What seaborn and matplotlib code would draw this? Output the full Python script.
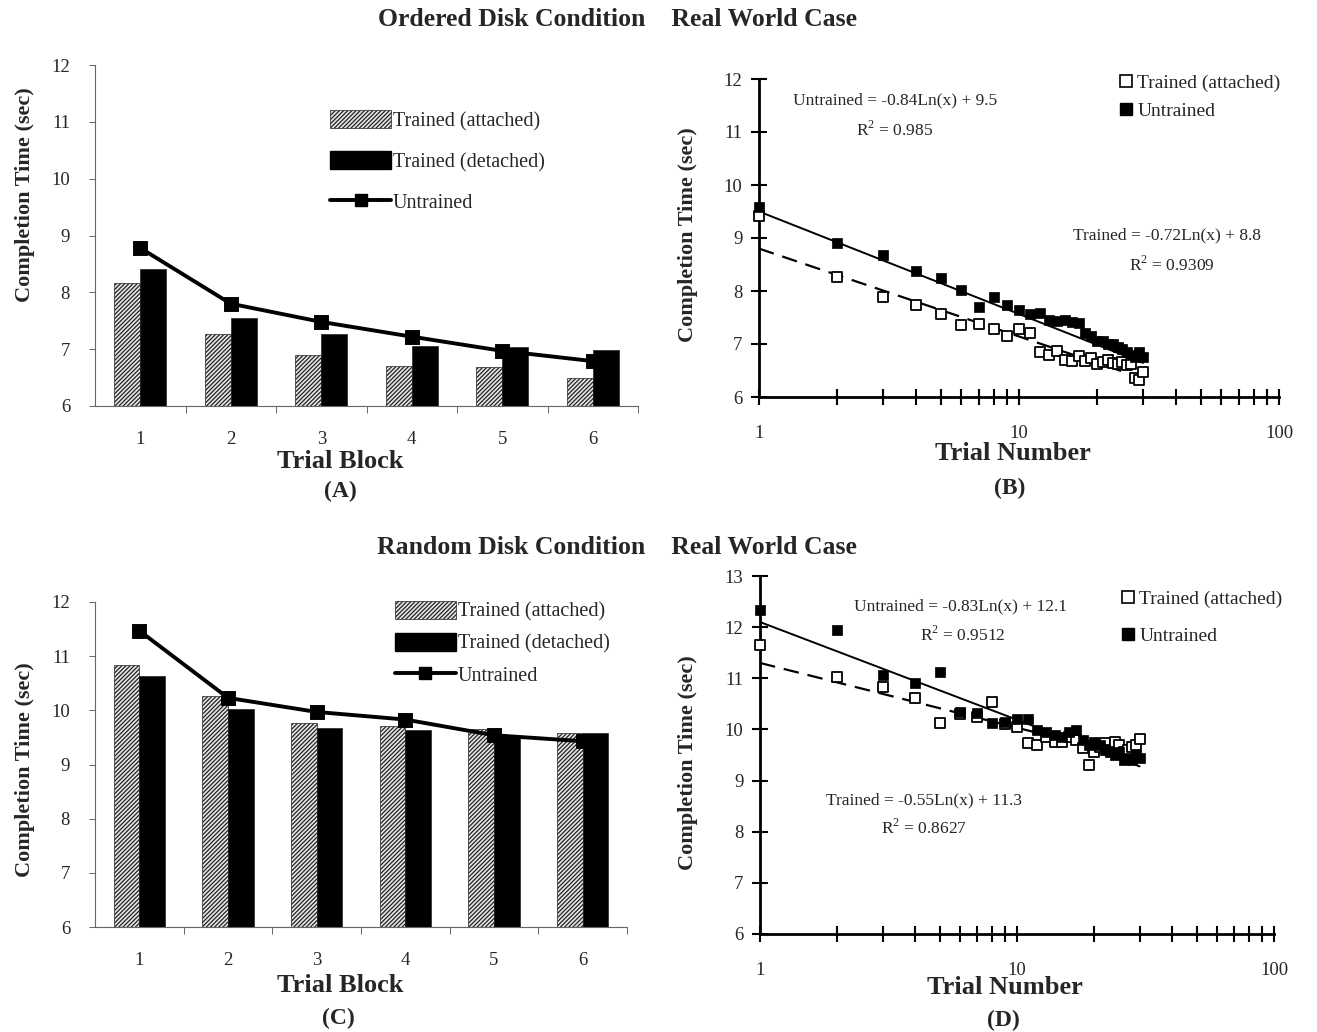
import numpy as np
import pandas as pd
import matplotlib
matplotlib.use('Agg')
import matplotlib.pyplot as plt
import seaborn as sns
from matplotlib.patches import Patch
from matplotlib.lines import Line2D
from matplotlib.ticker import FixedLocator, NullFormatter, FixedFormatter

blocks = [1, 2, 3, 4, 5, 6]
# block means, ordered disk condition (A)
ord_attached = [8.17, 7.27, 6.89, 6.70, 6.69, 6.50]
ord_detached = [8.41, 7.54, 7.27, 7.06, 7.04, 6.98]
ord_untrained = [8.78, 7.80, 7.48, 7.22, 6.97, 6.79]
# block means, random disk condition (C)
rnd_attached = [10.83, 10.26, 9.77, 9.72, 9.65, 9.59]
rnd_detached = [10.64, 10.03, 9.67, 9.63, 9.52, 9.59]
rnd_untrained = [11.47, 10.23, 9.97, 9.83, 9.54, 9.43]

trials = list(range(1, 31))
# per-trial means, ordered disk (B)
ord_trial_trained = [9.42, 8.26, 7.88, 7.74, 7.57, 7.35, 7.37, 7.28, 7.15, 7.28,
                     7.20, 6.85, 6.80, 6.86, 6.70, 6.68, 6.78, 6.68, 6.74, 6.62,
                     6.66, 6.70, 6.65, 6.62, 6.66, 6.60, 6.62, 6.36, 6.32, 6.48]
ord_trial_untrained = [9.58, 8.91, 8.68, 8.38, 8.25, 8.02, 7.69, 7.88, 7.74, 7.64,
                       7.57, 7.58, 7.45, 7.43, 7.45, 7.42, 7.40, 7.20, 7.15, 7.05,
                       7.05, 7.00, 7.00, 6.95, 6.90, 6.85, 6.80, 6.75, 6.85, 6.75]
# per-trial means, random disk (D)
rnd_trial_trained = [11.65, 11.02, 10.83, 10.61, 10.13, 10.30, 10.25, 10.54, 10.10, 10.05,
                     9.73, 9.70, 9.85, 9.76, 9.76, 9.85, 9.80, 9.63, 9.30, 9.56,
                     9.65, 9.73, 9.60, 9.76, 9.70, 9.55, 9.60, 9.65, 9.69, 9.82]
rnd_trial_untrained = [12.33, 11.94, 11.06, 10.91, 11.13, 10.34, 10.33, 10.13, 10.15, 10.20,
                       10.20, 9.99, 9.95, 9.90, 9.85, 9.95, 9.98, 9.80, 9.70, 9.75,
                       9.70, 9.60, 9.55, 9.50, 9.55, 9.40, 9.45, 9.40, 9.50, 9.45]

# log trend lines printed on the chart: (slope, intercept)
ord_fit_untrained = (-0.84, 9.5)
ord_fit_trained = (-0.72, 8.8)
rnd_fit_untrained = (-0.83, 12.1)
rnd_fit_trained = (-0.55, 11.3)

sns.set_theme(style='white')
plt.rcParams['font.family'] = ['Liberation Serif', 'DejaVu Serif']
plt.rcParams['hatch.linewidth'] = 0.9
plt.rcParams['mathtext.fontset'] = 'custom'
plt.rcParams['mathtext.rm'] = 'Liberation Serif'

W, H = 1317, 1032
fig = plt.figure(figsize=(W / 100, H / 100), dpi=100)
HATCH = '////////'


def box(x0, y_top, x1, y_bot):
    # pixel box -> figure fraction
    return [x0 / W, 1 - y_bot / H, (x1 - x0) / W, (y_bot - y_top) / H]


def ftext(x, y, s, **kw):
    fig.text(x / W, 1 - y / H, s, ha='center', va='center', **kw)


def bar_panel(ax, attached, detached, untrained, leg_anchor, leg_space):
    df = pd.DataFrame({'block': blocks * 2,
                       'time': attached + detached,
                       'group': ['Trained (attached)'] * 6 + ['Trained (detached)'] * 6})
    sns.barplot(data=df, x='block', y='time', hue='group', palette=['#e6e6e6', 'black'],
                width=0.58, edgecolor='#222222', linewidth=0.5, saturation=1,
                legend=False, ax=ax)
    for p in ax.patches:
        if p.get_facecolor()[0] > 0.5:
            p.set_hatch(HATCH)
    sns.pointplot(x=blocks, y=untrained, color='black', markers='s', markersize=8,
                  linewidth=2.8, errorbar=None, ax=ax)
    ax.set_ylim(6, 12)
    ax.set_xlim(-0.5, 5.5)
    ax.set_xlabel('')
    ax.set_ylabel('')
    for s in ['top', 'right']:
        ax.spines[s].set_visible(False)
    for s in ['left', 'bottom']:
        ax.spines[s].set_color('#666666')
        ax.spines[s].set_linewidth(0.8)
    ax.set_yticks(range(6, 13))
    ax.tick_params(axis='y', which='major', direction='out', length=4, width=0.7,
                   color='#666666', labelsize=13.5, pad=14, left=True)
    ax.tick_params(axis='x', which='major', length=0, labelsize=13.5, pad=18)
    ax.xaxis.set_minor_locator(FixedLocator([0.5, 1.5, 2.5, 3.5, 4.5, 5.5]))
    ax.tick_params(axis='x', which='minor', direction='out', length=5, width=0.7,
                   color='#666666', bottom=True)
    handles = [Patch(facecolor='#e6e6e6', edgecolor='#222222', hatch=HATCH, linewidth=0.5,
                     label='Trained (attached)'),
               Patch(facecolor='black', edgecolor='black', label='Trained (detached)'),
               Line2D([], [], color='black', lw=2.8, marker='s', ms=8, label='Untrained')]
    ax.legend(handles=handles, loc='upper left', bbox_to_anchor=leg_anchor, frameon=False,
              fontsize=14.5, handlelength=3.0, handleheight=1.0, handletextpad=0.1,
              labelspacing=leg_space)


def scatter_panel(ax, trained, untrained, fit_tr, fit_un, ylo, yhi, leg_anchor, leg_space):
    x = np.array(trials)
    sns.lineplot(x=x, y=fit_tr[0] * np.log(x) + fit_tr[1], color='black', lw=1.6,
                 linestyle=(0, (7, 4)), ax=ax)
    sns.lineplot(x=x, y=fit_un[0] * np.log(x) + fit_un[1], color='black', lw=1.4, ax=ax)
    sns.scatterplot(x=trials, y=trained, marker='s', s=62, facecolor='white',
                    edgecolor='black', linewidth=1.3, ax=ax, zorder=3, clip_on=False)
    sns.scatterplot(x=trials, y=untrained, marker='s', s=62, color='black',
                    edgecolor='black', linewidth=0.5, ax=ax, zorder=4, clip_on=False)
    ax.set_xscale('log')
    ax.set_xlim(1, 100)
    ax.set_ylim(ylo, yhi)
    ax.set_xlabel('')
    ax.set_ylabel('')
    for s in ['top', 'right']:
        ax.spines[s].set_visible(False)
    for s in ['left', 'bottom']:
        ax.spines[s].set_color('black')
        ax.spines[s].set_linewidth(2)
    ax.xaxis.set_major_locator(FixedLocator([1, 10, 100]))
    ax.xaxis.set_major_formatter(FixedFormatter(['1', '10', '100']))
    minors = [m * d for d in (1, 10) for m in range(2, 10)]
    ax.xaxis.set_minor_locator(FixedLocator(minors))
    ax.xaxis.set_minor_formatter(NullFormatter())
    ax.set_yticks(range(ylo, yhi + 1))
    ax.tick_params(axis='both', which='both', direction='inout', length=12, width=1.5,
                   color='black', labelsize=13.5, bottom=True, left=True)
    ax.tick_params(axis='x', which='major', pad=14)
    ax.tick_params(axis='y', which='major', pad=6)
    handles = [Line2D([], [], ls='none', marker='s', ms=8, mfc='white', mec='black',
                      mew=1.2, label='Trained (attached)'),
               Line2D([], [], ls='none', marker='s', ms=8, mfc='black', mec='black',
                      label='Untrained')]
    ax.legend(handles=handles, loc='upper left', bbox_to_anchor=leg_anchor,
              frameon=False, fontsize=14, handlelength=0.6, handletextpad=0.3,
              labelspacing=leg_space)


axA = fig.add_axes(box(95, 65, 638, 406))
bar_panel(axA, ord_attached, ord_detached, ord_untrained, (0.40, 0.92), 1.0)
axB = fig.add_axes(box(759, 79, 1279, 397))
scatter_panel(axB, ord_trial_trained, ord_trial_untrained, ord_fit_trained,
              ord_fit_untrained, 6, 12, (0.66, 1.07), 0.55)
axC = fig.add_axes(box(95, 602, 627, 927))
bar_panel(axC, rnd_attached, rnd_detached, rnd_untrained, (0.53, 1.06), 0.55)
axD = fig.add_axes(box(760, 576, 1274, 934))
scatter_panel(axD, rnd_trial_trained, rnd_trial_untrained, rnd_fit_trained,
              rnd_fit_untrained, 6, 13, (0.67, 1.01), 1.0)

bold = dict(fontweight='bold')
ftext(617, 20, 'Ordered Disk Condition    Real World Case', fontsize=18.5, **bold)
ftext(617, 548, 'Random Disk Condition    Real World Case', fontsize=18.5, **bold)

for y in (195, 770):
    ftext(25, y, 'Completion Time (sec)', fontsize=16, rotation=90, **bold)
for y in (235, 763):
    ftext(688, y, 'Completion Time (sec)', fontsize=16, rotation=90, **bold)

ftext(340, 461, 'Trial Block', fontsize=19, **bold)
ftext(340, 491, '(A)', fontsize=17, **bold)
ftext(340, 985, 'Trial Block', fontsize=19, **bold)
ftext(338, 1018, '(C)', fontsize=17, **bold)
ftext(1013, 454, 'Trial Number', fontsize=19, **bold)
ftext(1010, 488, '(B)', fontsize=17, **bold)
ftext(1005, 988, 'Trial Number', fontsize=19, **bold)
ftext(1003, 1020, '(D)', fontsize=17, **bold)

eq = dict(fontsize=12.5)
ftext(895, 100, 'Untrained = -0.84Ln(x) + 9.5', **eq)
ftext(895, 130, 'R$^2$ = 0.985', **eq)
ftext(1167, 235, 'Trained = -0.72Ln(x) + 8.8', **eq)
ftext(1172, 265, 'R$^2$ = 0.9309', **eq)
ftext(960, 606, 'Untrained = -0.83Ln(x) + 12.1', **eq)
ftext(963, 635, 'R$^2$ = 0.9512', **eq)
ftext(924, 800, 'Trained = -0.55Ln(x) + 11.3', **eq)
ftext(924, 828, 'R$^2$ = 0.8627', **eq)

fig.savefig('out.png', dpi=100, facecolor='white')
